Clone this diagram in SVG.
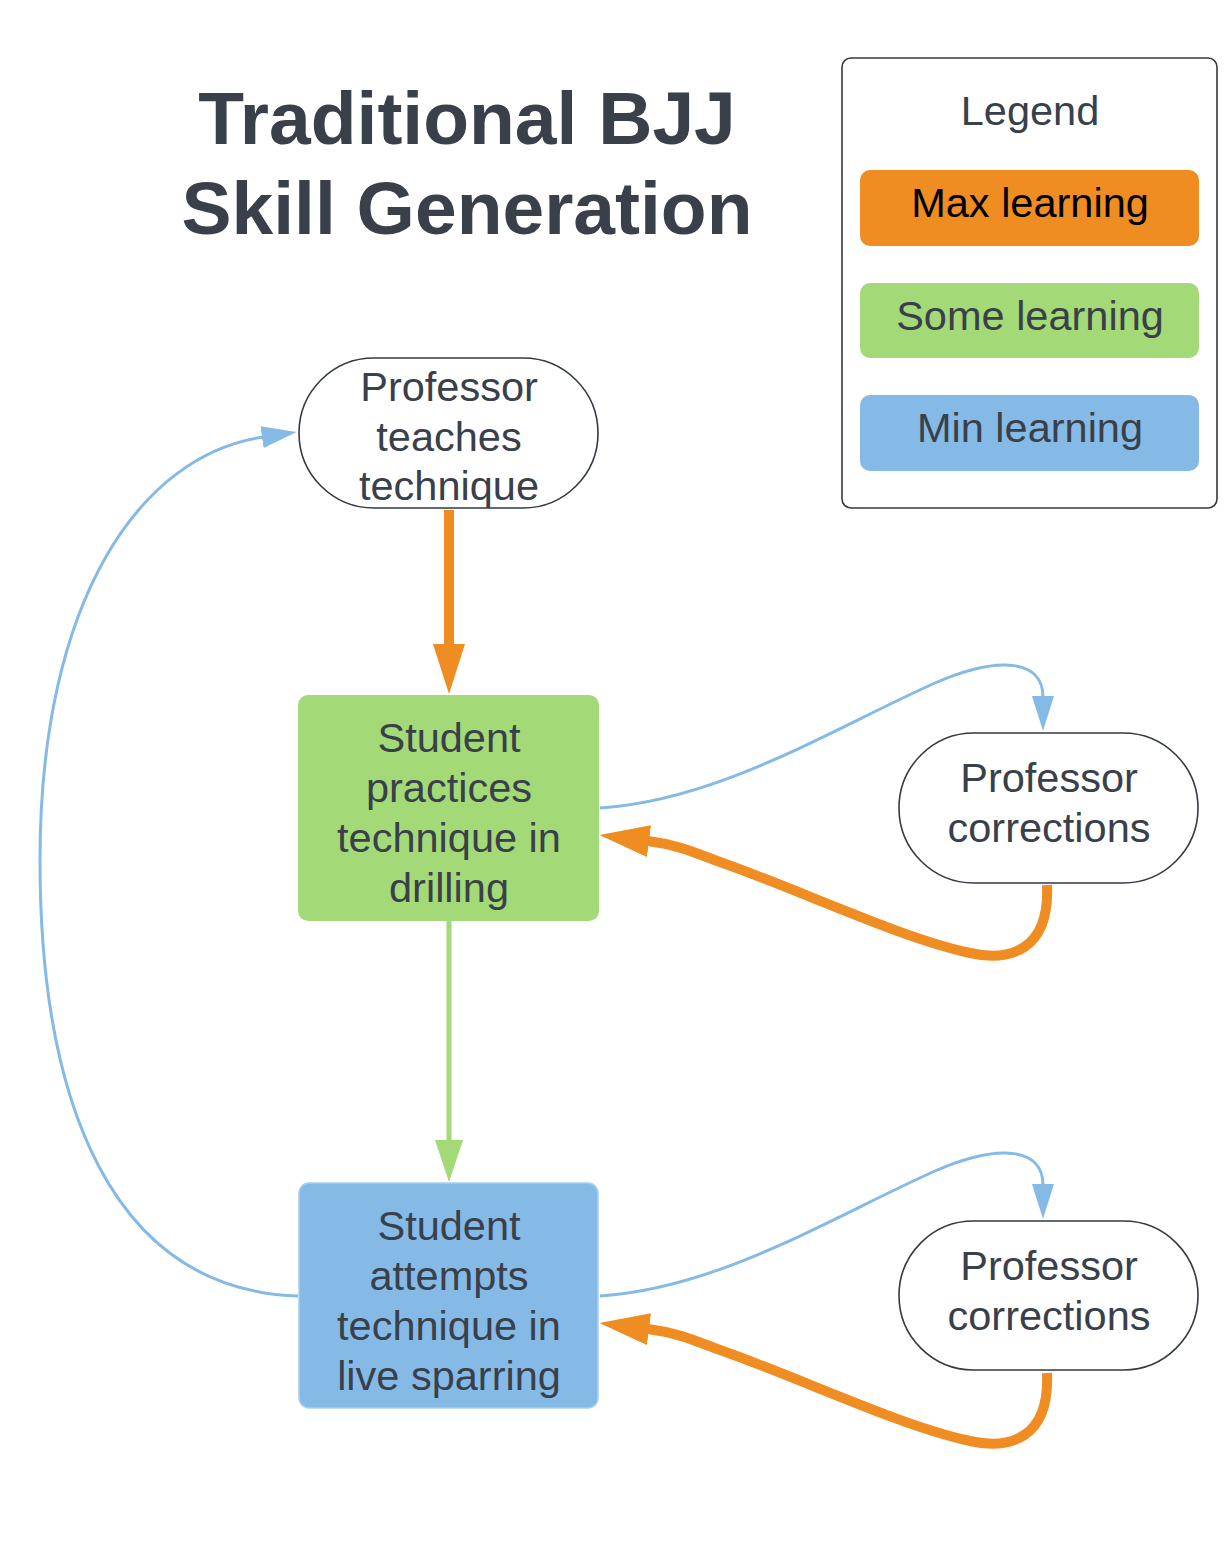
<svg xmlns="http://www.w3.org/2000/svg" width="1226" height="1552" viewBox="0 0 1226 1552">
<style>
text{font-family:"Liberation Sans",Arial,sans-serif;fill:#39404a;text-anchor:middle}
.t{font-size:75px;font-weight:bold}
.n{font-size:41.5px}
.term{fill:#fff;stroke:#333a42;stroke-width:1.6}
.or{fill:none;stroke:#ef8c22;stroke-width:10}
.gr{fill:none;stroke:#a3d977;stroke-width:5}
.bl{fill:none;stroke:#85bae6;stroke-width:3}
</style>
<defs>
<marker id="ao" markerUnits="userSpaceOnUse" markerWidth="50" markerHeight="32" viewBox="0 0 50 32" refX="1" refY="16" orient="auto"><path d="M0,0L50,16L0,32z" fill="#ef8c22"/></marker>
<marker id="ag" markerUnits="userSpaceOnUse" markerWidth="42" markerHeight="28" viewBox="0 0 42 28" refX="1" refY="14" orient="auto"><path d="M0,0L42,14L0,28z" fill="#a3d977"/></marker>
<marker id="ab" markerUnits="userSpaceOnUse" markerWidth="35" markerHeight="22" viewBox="0 0 35 22" refX="1" refY="11" orient="auto"><path d="M0,0L35,11L0,22z" fill="#85bae6"/></marker>
</defs>
<rect width="1226" height="1552" fill="#fff"/>
<g id="title">
<text class="t" x="467" y="144">Traditional BJJ</text>
<text class="t" x="467" y="234">Skill Generation</text>
</g>
<g id="legend">
<rect x="842" y="58" width="375" height="450" rx="9" fill="#fff" stroke="#333a42" stroke-width="1.6"/>
<text class="n" x="1030" y="125">Legend</text>
<rect x="860" y="170" width="339" height="76" rx="10" fill="#ef8c22"/>
<text class="n" x="1030" y="217" style="fill:#000">Max learning</text>
<rect x="860" y="283" width="339" height="75" rx="10" fill="#a3d977"/>
<text class="n" x="1030" y="330">Some learning</text>
<rect x="860" y="395" width="339" height="76" rx="10" fill="#85bae6"/>
<text class="n" x="1030" y="442">Min learning</text>
</g>
<g id="connectors">
<path class="or" d="M449,510L449,645" marker-end="url(#ao)"/>
<path class="gr" d="M449,921L449,1141" marker-end="url(#ag)"/>
<path class="bl" d="M298,1296C110,1290 40,1100 40,860C40,600 140,455 263,437" marker-end="url(#ab)"/>
<path class="bl" d="M600,808C720,800 830,730 935,683C1000,655 1043,660 1043,697" marker-end="url(#ab)"/>
<path class="or" d="M1047,885C1050,950 1010,962 970,953C900,938 800,890 720,862C700,855 680,845 648,841" marker-end="url(#ao)"/>
<path class="bl" d="M600,1296C720,1288 830,1218 935,1171C1000,1143 1043,1148 1043,1185" marker-end="url(#ab)"/>
<path class="or" d="M1047,1373C1050,1438 1010,1450 970,1441C900,1426 800,1378 720,1350C700,1343 680,1333 648,1329" marker-end="url(#ao)"/>
</g>
<g id="n1">
<rect class="term" x="299" y="358" width="299" height="150" rx="75"/>
<text class="n" x="449" y="401">Professor</text>
<text class="n" x="449" y="451">teaches</text>
<text class="n" x="449" y="500">technique</text>
</g>
<g id="n2">
<rect x="298" y="695" width="301" height="226" rx="10" fill="#a3d977"/>
<text class="n" x="449" y="752">Student</text>
<text class="n" x="449" y="802">practices</text>
<text class="n" x="449" y="852">technique in</text>
<text class="n" x="449" y="902">drilling</text>
</g>
<g id="n3">
<rect x="299" y="1183" width="299" height="225" rx="10" fill="#85bae6" stroke="#a9d0f0" stroke-width="1.5"/>
<text class="n" x="449" y="1240">Student</text>
<text class="n" x="449" y="1290">attempts</text>
<text class="n" x="449" y="1340">technique in</text>
<text class="n" x="449" y="1390">live sparring</text>
</g>
<g id="n4">
<rect class="term" x="899" y="733" width="299" height="150" rx="75"/>
<text class="n" x="1049" y="792">Professor</text>
<text class="n" x="1049" y="842">corrections</text>
</g>
<g id="n5">
<rect class="term" x="899" y="1221" width="299" height="149" rx="74.5"/>
<text class="n" x="1049" y="1280">Professor</text>
<text class="n" x="1049" y="1330">corrections</text>
</g>
</svg>
